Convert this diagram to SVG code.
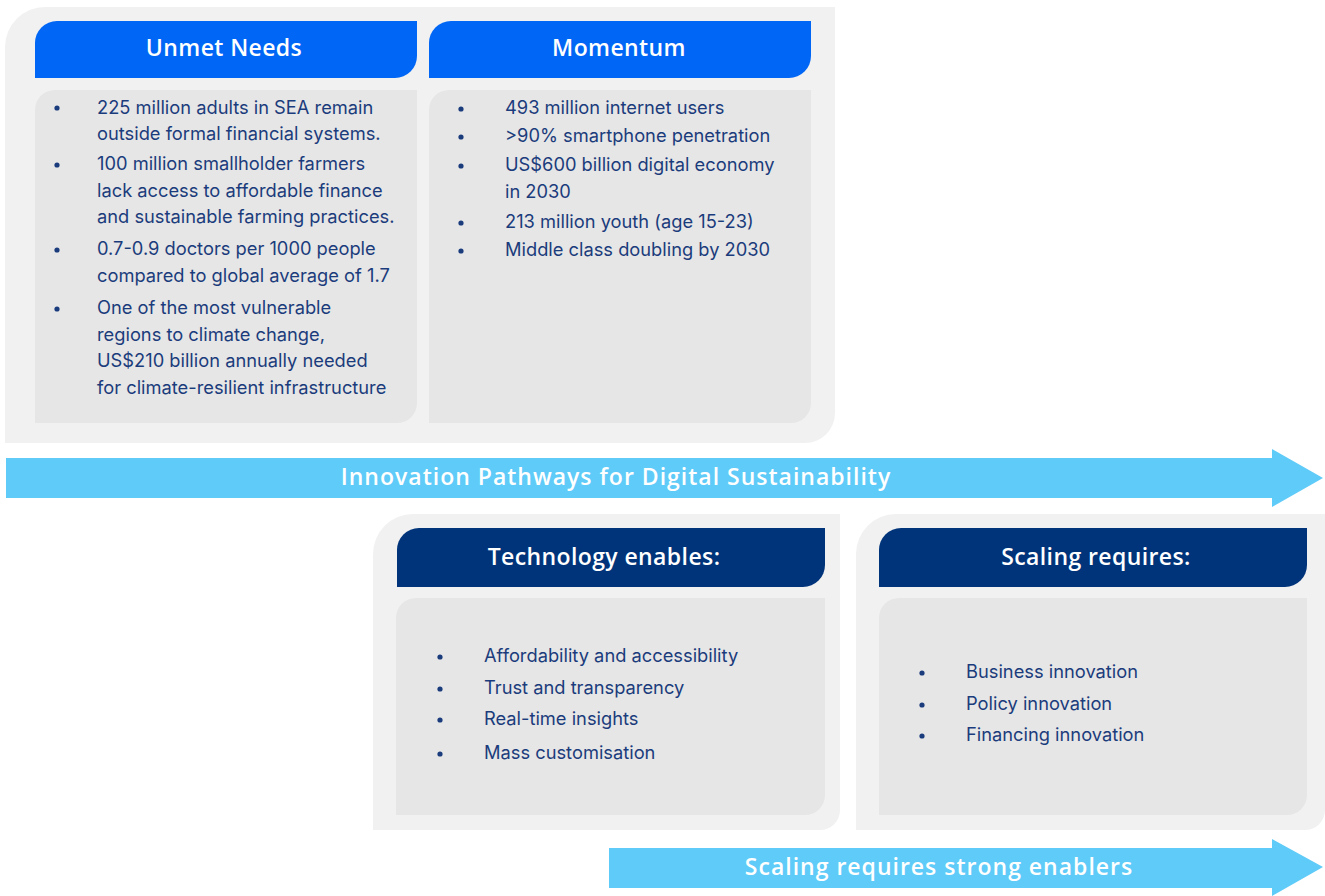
<svg xmlns="http://www.w3.org/2000/svg" width="1325" height="896" viewBox="0 0 1325 896">
<style>
.outer{fill:#f1f1f1}
.content{fill:#e6e6e6}
.hblue{fill:#0066f5}
.hnavy{fill:#00347a}
.arrow{fill:#5fcbf8}
.ht{font-family:"Open Sans",Lato,sans-serif;font-weight:600;font-size:23px;letter-spacing:0.4px;fill:#fff;text-anchor:middle}
.at{font-family:"Open Sans",Lato,sans-serif;font-weight:600;font-size:23px;letter-spacing:1px;fill:#fff;text-anchor:middle}
.bt{font-family:Inter,"Noto Sans",sans-serif;font-size:18.3px;fill:#1b3c7c}
.dot{fill:#1b3c7c}
</style>
<rect width="1325" height="896" fill="#fff"/>
<g id="panel-top">
<path class="outer" d="M45 7 H835 V413 A30 30 0 0 1 805 443 H5 V47 A40 40 0 0 1 45 7 Z"/>
</g>
<g id="unmet-needs">
<path class="hblue" d="M57 21 H417 V56 A22 22 0 0 1 395 78 H35 V43 A22 22 0 0 1 57 21 Z"/>
<text class="ht" x="224" y="56">Unmet Needs</text>
<path class="content" d="M55 90 H417 V403 A20 20 0 0 1 397 423 H35 V110 A20 20 0 0 1 55 90 Z"/>
<g class="dot">
<circle cx="57" cy="108" r="2.6"/><circle cx="57" cy="165" r="2.6"/><circle cx="57" cy="250" r="2.6"/><circle cx="57" cy="309" r="2.6"/>
</g>
<g class="bt">
<text x="97" y="114">225 million adults in SEA remain</text>
<text x="97" y="140">outside formal financial systems.</text>
<text x="97" y="170">100 million smallholder farmers</text>
<text x="97" y="197">lack access to affordable finance</text>
<text x="97" y="223">and sustainable farming practices.</text>
<text x="97" y="255">0.7-0.9 doctors per 1000 people</text>
<text x="97" y="282">compared to global average of 1.7</text>
<text x="97" y="314">One of the most vulnerable</text>
<text x="97" y="341">regions to climate change,</text>
<text x="97" y="367">US$210 billion annually needed</text>
<text x="97" y="394">for climate-resilient infrastructure</text>
</g>
</g>
<g id="momentum">
<path class="hblue" d="M451 21 H811 V56 A22 22 0 0 1 789 78 H429 V43 A22 22 0 0 1 451 21 Z"/>
<text class="ht" x="619" y="56">Momentum</text>
<path class="content" d="M449 90 H811 V403 A20 20 0 0 1 791 423 H429 V110 A20 20 0 0 1 449 90 Z"/>
<g class="dot">
<circle cx="461" cy="109" r="2.6"/><circle cx="461" cy="137" r="2.6"/><circle cx="461" cy="166" r="2.6"/><circle cx="461" cy="223" r="2.6"/><circle cx="461" cy="251" r="2.6"/>
</g>
<g class="bt">
<text x="505" y="114">493 million internet users</text>
<text x="505" y="142">&gt;90% smartphone penetration</text>
<text x="505" y="171">US$600 billion digital economy</text>
<text x="505" y="198">in 2030</text>
<text x="505" y="228">213 million youth (age 15-23)</text>
<text x="505" y="256">Middle class doubling by 2030</text>
</g>
</g>
<g id="connectors">
<g id="arrow-innovation">
<path class="arrow" d="M6 458 H1272 V449 L1323 478 L1272 507 V498 H6 Z"/>
<text class="at" x="616" y="485">Innovation Pathways for Digital Sustainability</text>
</g>
<g id="arrow-scaling">
<path class="arrow" d="M609 848 H1272 V839 L1323 867 L1272 896 V888 H609 Z"/>
<text class="at" x="939" y="875">Scaling requires strong enablers</text>
</g>
</g>
<g id="technology">
<path class="outer" d="M413 514 H840 V810 A20 20 0 0 1 820 830 H373 V554 A40 40 0 0 1 413 514 Z"/>
<path class="hnavy" d="M419 528 H825 V565 A22 22 0 0 1 803 587 H397 V550 A22 22 0 0 1 419 528 Z"/>
<text class="ht" x="604" y="565">Technology enables:</text>
<path class="content" d="M416 598 H825 V795 A20 20 0 0 1 805 815 H396 V618 A20 20 0 0 1 416 598 Z"/>
<g class="dot">
<circle cx="440" cy="657" r="2.6"/><circle cx="440" cy="689" r="2.6"/><circle cx="440" cy="720" r="2.6"/><circle cx="440" cy="754" r="2.6"/>
</g>
<g class="bt">
<text x="484" y="662">Affordability and accessibility</text>
<text x="484" y="694">Trust and transparency</text>
<text x="484" y="725">Real-time insights</text>
<text x="484" y="759">Mass customisation</text>
</g>
</g>
<g id="scaling">
<path class="outer" d="M896 514 H1325 V810 A20 20 0 0 1 1305 830 H856 V554 A40 40 0 0 1 896 514 Z"/>
<path class="hnavy" d="M901 528 H1307 V565 A22 22 0 0 1 1285 587 H879 V550 A22 22 0 0 1 901 528 Z"/>
<text class="ht" x="1096" y="565">Scaling requires:</text>
<path class="content" d="M899 598 H1307 V795 A20 20 0 0 1 1287 815 H879 V618 A20 20 0 0 1 899 598 Z"/>
<g class="dot">
<circle cx="922" cy="673" r="2.6"/><circle cx="922" cy="705" r="2.6"/><circle cx="922" cy="736" r="2.6"/>
</g>
<g class="bt">
<text x="966" y="678">Business innovation</text>
<text x="966" y="710">Policy innovation</text>
<text x="966" y="741">Financing innovation</text>
</g>
</g>
</svg>
